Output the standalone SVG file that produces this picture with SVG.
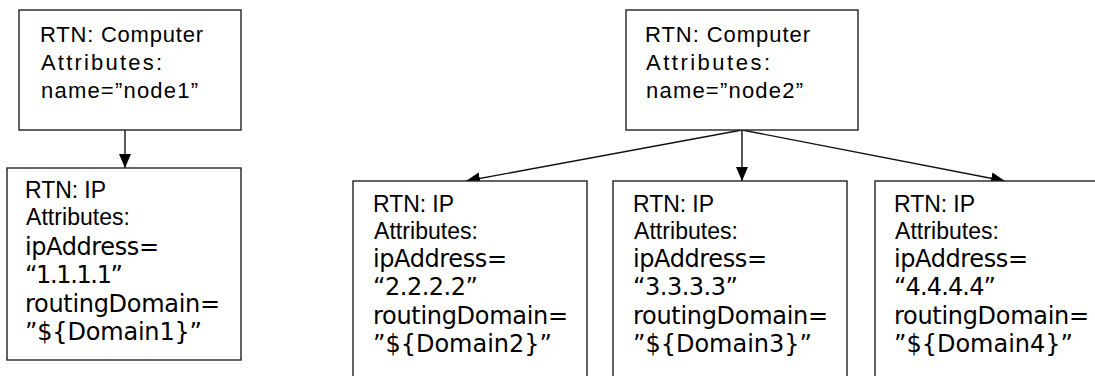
<svg xmlns="http://www.w3.org/2000/svg" width="1095" height="376" viewBox="0 0 1095 376">
<style>
.box{fill:#fff;stroke:#222;stroke-width:1.4}
.a{font-family:"Liberation Sans",Arial,sans-serif;fill:#000}
.a1{font-size:22px}
.a2{font-size:23px}
.d{font-family:"DejaVu Sans",Verdana,sans-serif;font-size:24px;fill:#000}
.con{stroke:#111;stroke-width:1.4;fill:none}
</style>
<defs>
<marker id="arr" markerUnits="userSpaceOnUse" markerWidth="15" markerHeight="13" refX="14" refY="6" orient="auto">
<path d="M0,0 L14,6 L0,12 z" fill="#000"/>
</marker>
</defs>
<rect width="1095" height="376" fill="#fff"/>
<g id="connectors">
<line class="con" x1="125" y1="130" x2="125" y2="168" marker-end="url(#arr)"/>
<line class="con" x1="742" y1="130" x2="742" y2="181" marker-end="url(#arr)"/>
<line class="con" x1="742" y1="130" x2="466" y2="181" marker-end="url(#arr)"/>
<line class="con" x1="742" y1="130" x2="1005" y2="181" marker-end="url(#arr)"/>
</g>
<g id="node1">
<rect class="box" x="19" y="10" width="222" height="120"/>
<text class="a a1" x="40" y="42" textLength="163" lengthAdjust="spacing">RTN: Computer</text>
<text class="a a1" x="41" y="70" textLength="121" lengthAdjust="spacing">Attributes:</text>
<text class="a a1" x="41" y="98" textLength="157" lengthAdjust="spacing">name=”node1”</text>
</g>
<g id="node2">
<rect class="box" x="626" y="10" width="232" height="120"/>
<text class="a a1" x="645" y="42" textLength="165" lengthAdjust="spacing">RTN: Computer</text>
<text class="a a1" x="646" y="70" textLength="124" lengthAdjust="spacing">Attributes:</text>
<text class="a a1" x="646" y="98" textLength="157" lengthAdjust="spacing">name=”node2”</text>
</g>
<g id="ip1">
<rect class="box" x="7" y="168" width="234" height="192"/>
<text class="a a2" x="25" y="198" textLength="81" lengthAdjust="spacing">RTN: IP</text>
<text class="a a2" x="26" y="225" textLength="104" lengthAdjust="spacing">Attributes:</text>
<text class="d" x="25" y="255" textLength="134" lengthAdjust="spacing">ipAddress=</text>
<text class="d" x="25" y="283" textLength="98" lengthAdjust="spacing">“1.1.1.1”</text>
<text class="d" x="25" y="312" textLength="195" lengthAdjust="spacing">routingDomain=</text>
<text class="d" x="25" y="340" textLength="177" lengthAdjust="spacing">”${Domain1}”</text>
</g>
<g id="ip2">
<rect class="box" x="353" y="181" width="234" height="210"/>
<text class="a a2" x="373" y="212" textLength="81" lengthAdjust="spacing">RTN: IP</text>
<text class="a a2" x="374" y="238.5" textLength="104" lengthAdjust="spacing">Attributes:</text>
<text class="d" x="373" y="267" textLength="134" lengthAdjust="spacing">ipAddress=</text>
<text class="d" x="373" y="295" textLength="105" lengthAdjust="spacing">“2.2.2.2”</text>
<text class="d" x="373" y="323.5" textLength="195" lengthAdjust="spacing">routingDomain=</text>
<text class="d" x="373" y="352" textLength="179" lengthAdjust="spacing">”${Domain2}”</text>
</g>
<g id="ip3">
<rect class="box" x="613" y="181" width="234" height="210"/>
<text class="a a2" x="633" y="212" textLength="81" lengthAdjust="spacing">RTN: IP</text>
<text class="a a2" x="634" y="238.5" textLength="104" lengthAdjust="spacing">Attributes:</text>
<text class="d" x="633" y="267" textLength="134" lengthAdjust="spacing">ipAddress=</text>
<text class="d" x="633" y="295" textLength="105" lengthAdjust="spacing">“3.3.3.3”</text>
<text class="d" x="633" y="323.5" textLength="195" lengthAdjust="spacing">routingDomain=</text>
<text class="d" x="633" y="352" textLength="179" lengthAdjust="spacing">”${Domain3}”</text>
</g>
<g id="ip4">
<rect class="box" x="875" y="181" width="240" height="210"/>
<text class="a a2" x="894" y="212" textLength="81" lengthAdjust="spacing">RTN: IP</text>
<text class="a a2" x="895" y="238.5" textLength="104" lengthAdjust="spacing">Attributes:</text>
<text class="d" x="894" y="267" textLength="134" lengthAdjust="spacing">ipAddress=</text>
<text class="d" x="894" y="295" textLength="102" lengthAdjust="spacing">“4.4.4.4”</text>
<text class="d" x="894" y="323.5" textLength="195" lengthAdjust="spacing">routingDomain=</text>
<text class="d" x="894" y="352" textLength="179" lengthAdjust="spacing">”${Domain4}”</text>
</g>
</svg>
